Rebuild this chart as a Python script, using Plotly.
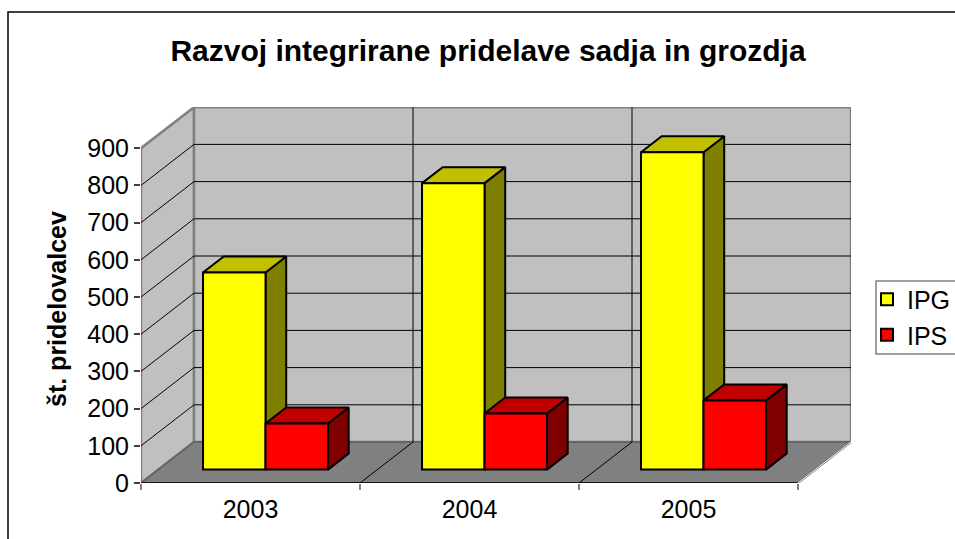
import plotly.graph_objects as go

years = ["2003", "2004", "2005"]
ipg = [530, 770, 853]
ips = [124, 151, 186]
yticks = [0, 100, 200, 300, 400, 500, 600, 700, 800, 900]

W, H = 955, 539
L, R, T, B = 141, 851, 107, 483
YMAX = (B - T) / 0.372
n = len(years)
XMAX = (R - L) / 219
DX = 53 / 219        # depth projection in category units
DY = 41 / 0.372      # depth projection in value units
BW = 62.5 / 219      # width of one bar
GAP = (1 - 2 * BW) / 2 - 2.3 / 219
D0, D1 = 0.327, 0.717  # front and back of the bars within the floor depth
AXMAX = yticks[-1]

def px(xp): return (xp - L) / (R - L)
def py(yp): return (B - yp) / (B - T)

fig = go.Figure()

def poly(xs, ys, fill, line="black", lw=2, z=0):
    fig.add_trace(go.Scatter(x=xs, y=ys, mode="lines", fill="toself", fillcolor=fill,
                             line=dict(color=line, width=lw), showlegend=False,
                             hoverinfo="skip", cliponaxis=False, zorder=z))

def lines(xs, ys, color, lw=1, z=0):
    fig.add_trace(go.Scatter(x=xs, y=ys, mode="lines", line=dict(color=color, width=lw),
                             showlegend=False, hoverinfo="skip", cliponaxis=False, zorder=z))

# walls and floor
poly([0, DX, DX, 0, 0], [0, DY, AXMAX + DY, AXMAX, 0], "#C0C0C0", "#808080", 2.5, 0)
poly([DX, n + DX, n + DX, DX, DX], [DY, DY, AXMAX + DY, AXMAX + DY, DY], "#C0C0C0", "#808080", 2.5, 0)
poly([0, n, n + DX, DX, 0], [0, 0, DY, DY, 0], "#808080", "#666666", 2, 0)

# gridlines
gx, gy = [], []
for v in yticks[1:-1]:
    gx += [0, DX, n + DX, None]
    gy += [v, v + DY, v + DY, None]
for i in range(1, n):
    gx += [i, i + DX, i + DX, None]
    gy += [0, DY, AXMAX + DY, None]
lines(gx, gy, "black", 1, 1)
lines([0, n], [0, 0], "black", 1.5, 1)
lines([n, n + DX], [0, DY], "white", 1, 1)

def series(values, off, name, front, top, side, z):
    cx, base = [], []
    for i, v in enumerate(values):
        x0 = i + GAP + off + D0 * DX
        x1 = x0 + BW
        b = D0 * DY
        ddx, ddy = (D1 - D0) * DX, (D1 - D0) * DY
        poly([x1, x1 + ddx, x1 + ddx, x1, x1], [b, b + ddy, b + v + ddy, b + v, b], side, z=z)
        poly([x0, x1, x1 + ddx, x0 + ddx, x0], [b + v, b + v, b + v + ddy, b + v + ddy, b + v], top, z=z)
        cx.append((x0 + x1) / 2)
        base.append(b)
    fig.add_trace(go.Bar(x=cx, y=values, base=base, width=BW, name=name,
                         marker=dict(color=front, line=dict(color="black", width=2)),
                         hoverinfo="skip", zorder=z + 1))

series(ipg, 0, "IPG", "#FFFF00", "#C0C000", "#808000", 2)
series(ips, BW, "IPS", "#FF0000", "#C00000", "#800000", 4)

FONT = "Liberation Sans"
fig.update_layout(
    width=W, height=H, autosize=False, barmode="overlay",
    paper_bgcolor="white", plot_bgcolor="white",
    margin=dict(l=L, r=W - R, t=T, b=H - B, autoexpand=False),
    font=dict(family=FONT, size=25, color="black"),
    title=dict(text="Razvoj integrirane pridelave sadja in grozdja",
               font=dict(family=FONT, size=30, color="black", weight=700),
               x=488 / W, xanchor="center", y=1 - 50 / H, yanchor="middle"),
    xaxis=dict(range=[0, XMAX], showgrid=False, zeroline=False, showline=False,
               tickmode="array", tickvals=[i + 0.5 for i in range(n)], ticktext=years,
               ticks="", tickfont=dict(size=25), ticklabelstandoff=9,
               minor=dict(tickmode="array", tickvals=list(range(n + 1)), ticks="outside",
                          ticklen=6, tickcolor="#808080", tickwidth=1.5, showgrid=False)),
    yaxis=dict(range=[0, YMAX], showgrid=False, zeroline=False, showline=False,
               tickmode="array", tickvals=yticks, ticks="outside", ticklen=6,
               tickcolor="#404040", tickwidth=1.5, tickfont=dict(size=25)),
    legend=dict(x=px(873), xanchor="left", y=py(317), yanchor="middle", indentation=-6,
                bgcolor="rgba(0,0,0,0)", borderwidth=0,
                font=dict(size=25), traceorder="normal", tracegroupgap=0),
    annotations=[dict(text="<b>št. pridelovalcev</b>", textangle=-90, showarrow=False,
                      xref="paper", yref="paper", x=px(57), y=py(309),
                      xanchor="center", yanchor="middle",
                      font=dict(family=FONT, size=25, color="black"))],
    shapes=[dict(type="rect", xref="paper", yref="paper", layer="below",
                 x0=px(8), x1=px(W + 20), y0=py(H + 20), y1=py(12),
                 line=dict(color="black", width=1.5), fillcolor="rgba(0,0,0,0)"),
            dict(type="rect", xref="paper", yref="paper", layer="below",
                 x0=px(876), x1=px(W + 20), y0=py(354), y1=py(281),
                 line=dict(color="#808080", width=1.5), fillcolor="white")],
)
fig.write_html("out.html", config={"displayModeBar": False},
               post_script="document.body.style.margin='0';document.body.style.overflow='hidden';")
